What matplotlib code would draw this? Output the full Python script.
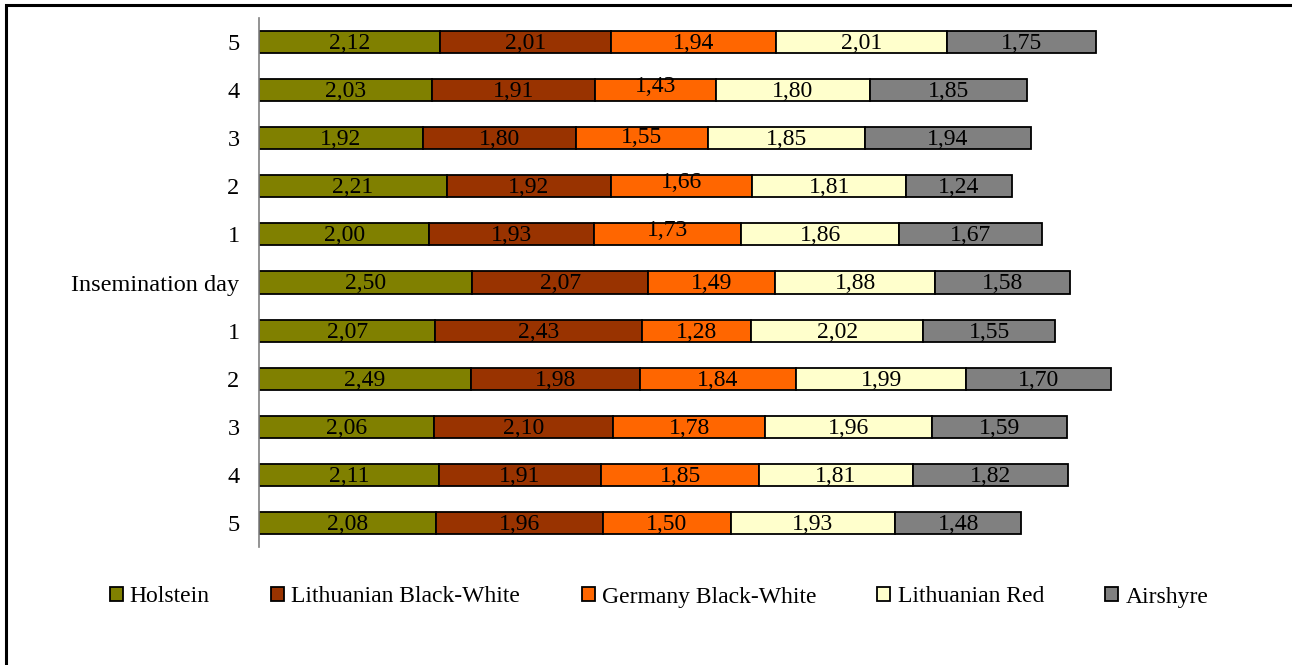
import matplotlib.pyplot as plt
from matplotlib.patches import Rectangle

# days before / after insemination, listed top to bottom
rows = ['5', '4', '3', '2', '1', 'Insemination day', '1', '2', '3', '4', '5']

breeds = ['Holstein', 'Lithuanian Black-White', 'Germany Black-White', 'Lithuanian Red', 'Airshyre']
colors = ['#808000', '#993300', '#FF6600', '#FFFFCC', '#808080']

holstein = [2.12, 2.03, 1.92, 2.21, 2.00, 2.50, 2.07, 2.49, 2.06, 2.11, 2.08]
lith_bw = [2.01, 1.91, 1.80, 1.92, 1.93, 2.07, 2.43, 1.98, 2.10, 1.91, 1.96]
germ_bw = [1.94, 1.43, 1.55, 1.66, 1.73, 1.49, 1.28, 1.84, 1.78, 1.85, 1.50]
lith_red = [2.01, 1.80, 1.85, 1.81, 1.86, 1.88, 2.02, 1.99, 1.96, 1.81, 1.93]
airshyre = [1.75, 1.85, 1.94, 1.24, 1.67, 1.58, 1.55, 1.70, 1.59, 1.82, 1.48]

series = [holstein, lith_bw, germ_bw, lith_red, airshyre]

plt.rcParams['font.family'] = ['Liberation Serif', 'DejaVu Serif']

fig = plt.figure(figsize=(12.92, 6.65), dpi=100)
ax = fig.add_axes([259 / 1292, 1 - 547 / 665, 1022 / 1292, (547 - 18) / 665])

ypos = list(range(len(rows)))
left = [0.0] * len(rows)
for name, vals, col in zip(breeds, series, colors):
    bars = ax.barh(ypos, vals, left=left, height=0.46, color=col,
                   edgecolor='black', linewidth=1.3, label=name)
    for i, (b, v) in enumerate(zip(bars, vals)):
        cx = b.get_x() + b.get_width() / 2
        # a few labels in the orange column sit a little high
        dy = 0.0
        if name == 'Germany Black-White' and i in (1, 3, 4):
            dy = -0.11
        elif name == 'Germany Black-White' and i == 2:
            dy = -0.05
        ax.text(cx, i + 0.03 + dy, f'{v:.2f}'.replace('.', ','), ha='center', va='center',
                fontsize=17, color='black')
    left = [l + v for l, v in zip(left, vals)]

ax.set_xlim(0, 12)
ax.set_ylim(len(rows) - 0.5, -0.5)
ax.set_yticks(ypos)
ax.set_yticklabels(rows, fontsize=17.5)
ax.tick_params(axis='y', length=0, pad=14)
ax.set_xticks([])
for s in ['top', 'right', 'bottom']:
    ax.spines[s].set_visible(False)
ax.spines['left'].set_color('#808080')
ax.spines['left'].set_linewidth(1.2)

fig.legend(loc='center', bbox_to_anchor=(659 / 1292, 1 - 597 / 665), ncol=5, frameon=False,
           fontsize=17, handlelength=0.55, handleheight=0.55, handletextpad=0.3,
           columnspacing=2.6)

# outer frame of the figure
fig.add_artist(Rectangle((5.5 / 1292, -0.1), 1.2, 1 + 0.1 - 5.5 / 665, transform=fig.transFigure,
                         fill=False, edgecolor='black', linewidth=2.2))

fig.savefig('out.png', dpi=100)
